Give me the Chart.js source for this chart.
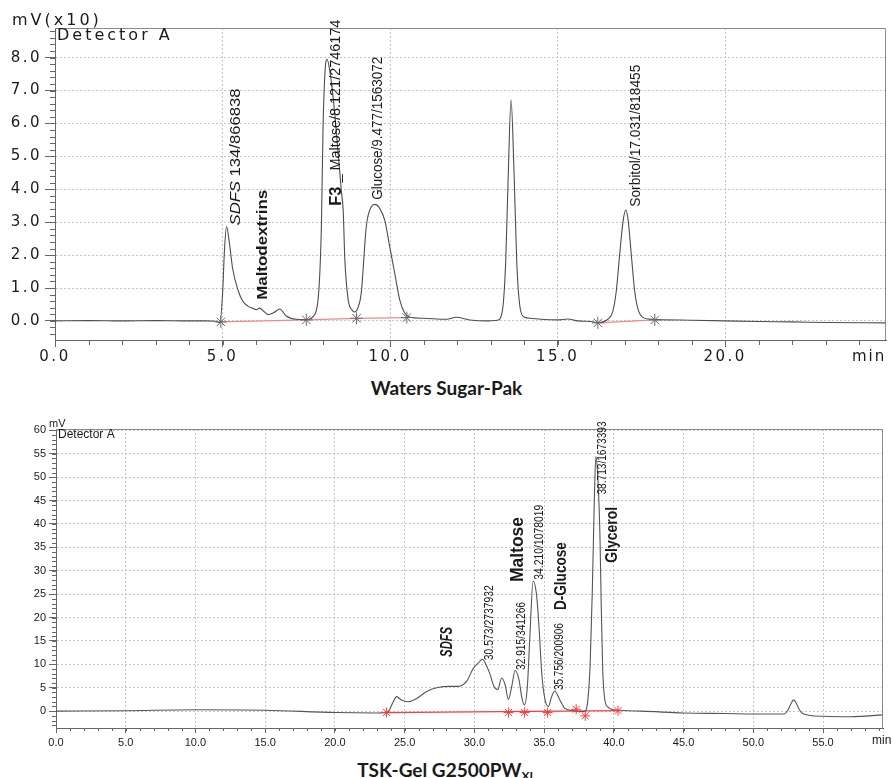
<!DOCTYPE html>
<html>
<head>
<meta charset="utf-8">
<title>Chromatograms</title>
<script src="https://cdn.jsdelivr.net/npm/chart.js@4.4.1/dist/chart.umd.min.js"></script>
<style>
  body { margin: 0; background: #fff; }
  #page { position: relative; width: 893px; height: 778px; overflow: hidden; }
  canvas { position: absolute; left: 0; }
  #sugarPak { top: 0; }
  #tskGel { top: 400px; }
  .caption { position: absolute; left: 0; width: 893px; text-align: center; line-height: 26px;
             font-family: Lato, sans-serif; font-weight: 700; font-size: 19px; color: #1a1a1a; }
  .caption span { font-size: 12px; vertical-align: -3px; }
</style>
</head>
<body>
<div id="page">
  <canvas id="sugarPak" width="893" height="372"></canvas>
  <div class="caption" style="top:375px">Waters Sugar-Pak</div>
  <canvas id="tskGel" width="893" height="355"></canvas>
  <div class="caption" style="top:757px">TSK-Gel G2500PW<span>XL</span></div>
</div>
<script>
// Waters Sugar-Pak trace (min, mV x10)
const sugarTime = [0, 1, 2, 3, 4, 4.5, 4.8, 4.92, 5.0, 5.06,
  5.12, 5.2, 5.3, 5.46, 5.61, 5.76, 5.9, 6.01, 6.11, 6.22,
  6.36, 6.51, 6.71, 6.9, 7.2, 7.45, 7.6, 7.7, 7.85, 7.95,
  8.0, 8.06, 8.12, 8.2, 8.32, 8.45, 8.55, 8.6, 8.65, 8.75,
  8.86, 8.94, 9.04, 9.14, 9.29, 9.44, 9.54, 9.69, 9.84, 9.99,
  10.14, 10.29, 10.44, 10.59, 10.99, 11.69, 11.98, 12.38, 12.9, 13.2,
  13.35, 13.45, 13.52, 13.61, 13.7, 13.78, 13.88, 14.0, 14.2, 14.5,
  15.0, 15.3, 15.6, 16.0, 16.2, 16.5, 16.65, 16.75, 16.85, 16.95,
  17.03, 17.1, 17.2, 17.3, 17.4, 17.55, 17.8, 18.0, 19.0, 20.0,
  21.0, 22.0, 23.0, 24.8];
const sugarSignal = [0, 0.01, 0, 0.01, 0, 0, -0.01, -0.05, 0.8, 2.2,
  2.87, 2.4, 1.6, 0.94, 0.59, 0.45, 0.38, 0.34, 0.39, 0.3,
  0.19, 0.24, 0.36, 0.15, 0.05, 0.04, 0.06, 0.13, 0.64, 2.87,
  5.9, 7.6, 7.95, 7.6, 6.6, 5.1, 3.9, 3.37, 1.86, 0.64,
  0.34, 0.27, 0.4, 0.85, 2.87, 3.47, 3.54, 3.42, 3.06, 2.25,
  1.44, 0.63, 0.23, 0.11, 0.08, 0.05, 0.11, 0.03, 0, 0.02,
  0.3, 1.8, 4.2, 6.72, 4.5, 1.8, 0.4, 0.12, 0.08, 0.05,
  0.03, 0.06, 0, -0.02, -0.05, 0.05, 0.3, 0.9, 2.0, 3.0,
  3.37, 3.1, 2.0, 0.9, 0.35, 0.1, 0.05, 0.04, 0.02, 0,
  -0.02, -0.03, -0.05, -0.06];
const sugarCutTime = [4.95, 7.5, 9.0, 10.5, 16.2, 17.9];
const sugarCutLevel = [-0.03, 0.03, 0.08, 0.1, -0.06, 0.03];
const sugarBaselines = [[0, 1], [1, 2], [2, 3], [4, 5]];
const sugarXTicks = [0, 5, 10, 15, 20];
const sugarYTicks = [0, 1, 2, 3, 4, 5, 6, 7, 8];

// TSK-Gel G2500PWXL trace (min, mV)
const tskTime = [0, 5, 10, 15, 20, 23, 23.8, 24.1, 24.42, 24.78,
  25.26, 25.86, 26.58, 27.3, 28.25, 28.85, 29.45, 29.93, 30.29, 30.57,
  30.89, 31.13, 31.4, 31.67, 31.96, 32.2, 32.44, 32.68, 32.92, 33.2,
  33.39, 33.58, 33.8, 33.99, 34.21, 34.47, 34.66, 34.83, 35.06, 35.3,
  35.54, 35.76, 36.13, 36.49, 37.1, 37.8, 38.0, 38.16, 38.3, 38.45,
  38.6, 38.71, 38.85, 39.0, 39.1, 39.2, 39.35, 39.6, 40.0, 42,
  45, 48, 50, 52.2, 52.5, 52.7, 52.9, 53.1, 53.3, 53.6,
  55, 57, 59.3];
const tskSignal = [0, 0.1, 0.3, 0.2, -0.3, -0.4, -0.2, 1.5, 3.1, 2.36,
  2.0, 2.7, 4.2, 5.0, 5.3, 5.3, 6.4, 9.2, 10.3, 11.1,
  9.6, 7.8, 5.3, 4.6, 7.1, 5.7, 2.5, 5.3, 8.7, 6.7,
  3.1, 1.3, 5.3, 16.7, 27.8, 24.5, 16.7, 8.1, 2.5, 1.0,
  3.1, 4.3, 2.4, 0.6, 0.1, -0.1, 0.2, 3.1, 10, 25,
  45, 54.4, 50, 38, 22, 9, 2.5, 0.8, 0.3, 0,
  -0.4, -0.5, -0.6, -0.6, 0.3, 1.6, 2.4, 1.6, 0.3, -0.6,
  -1.1, -1.2, -0.8];
const tskCutTime = [23.7, 32.45, 33.6, 35.25, 37.3, 37.95, 40.3];
const tskCutLevel = [-0.3, -0.3, -0.3, -0.3, 0.4, -1.0, 0.1];
const tskBaselines = [[0, 6]];
const tskXTicks = [0, 5, 10, 15, 20, 25, 30, 35, 40, 45, 50, 55];
const tskYTicks = [0, 5, 10, 15, 20, 25, 30, 35, 40, 45, 50, 55, 60];

const LS = '"Liberation Sans"';

// peak labels, anchored at the start of the (rotated) text, in data units
const sugarNotes = [
  { parts: [['italic 15px ' + LS, 'SDFS'], ['15px ' + LS, ' 134/866838']], x: 5.4, y: 2.9, len: 137 },
  { parts: [['bold 15px ' + LS, 'Maltodextrins']], x: 6.2, y: 0.64, len: 110 },
  { parts: [['bold 16px ' + LS, 'F3'], ['14px ' + LS, ' _ Maltose/8.121/2746174']], x: 8.4, y: 3.5, len: 186 },
  { parts: [['14px ' + LS, 'Glucose/9.477/1563072']], x: 9.63, y: 3.68, len: 143 },
  { parts: [['14px ' + LS, 'Sorbitol/17.031/818455']], x: 17.35, y: 3.47, len: 142 }
];
const tskNotes = [
  { parts: [['bold italic 16px ' + LS, 'SDFS']], x: 28.1, y: 11.6, len: 30 },
  { parts: [['12px ' + LS, '30.573/2737932']], x: 31.1, y: 10.9, len: 75 },
  { parts: [['12px ' + LS, '32.915/341266']], x: 33.4, y: 8.8, len: 68 },
  { parts: [['bold 18px ' + LS, 'Maltose']], x: 33.1, y: 27.6, len: 65 },
  { parts: [['12px ' + LS, '34.210/1078019']], x: 34.7, y: 28.1, len: 75 },
  { parts: [['bold 16px ' + LS, 'D-Glucose']], x: 36.27, y: 21.6, len: 68 },
  { parts: [['12px ' + LS, '35.756/200906']], x: 36.13, y: 4.5, len: 67 },
  { parts: [['bold 16px ' + LS, 'Glycerol']], x: 39.93, y: 31.7, len: 56 },
  { parts: [['12px ' + LS, '38.713/1673393']], x: 39.2, y: 46.3, len: 73 }
];

const pts = (xs, ys) => xs.map((x, i) => ({ x: x, y: ys[i] }));

function baselinePts(times, levels, segs) {
  const out = [];
  segs.forEach(([a, b]) => {
    out.push({ x: times[a], y: levels[a] }, { x: times[b], y: levels[b] }, { x: times[b], y: null });
  });
  return out;
}

// frame, minor ticks, axis captions and peak labels
const decor = {
  id: 'decor',
  beforeDraw(chart, args, o) {
    chart.ctx.letterSpacing = o.spacing || '0px';
  },
  afterDraw(chart, args, o) {
    const { ctx, chartArea: a, scales: { x, y } } = chart;
    ctx.save();
    ctx.letterSpacing = '0px';
    ctx.lineWidth = 1;
    ctx.strokeStyle = o.frameColor;
    ctx.beginPath();
    ctx.moveTo(a.left, a.top + 0.5);
    ctx.lineTo(a.right - 0.5, a.top + 0.5);
    ctx.lineTo(a.right - 0.5, a.bottom);
    ctx.stroke();

    ctx.strokeStyle = o.tickColor;
    ctx.beginPath();
    for (let i = 0; i * o.xMinorStep <= x.max; i++) {
      const p = Math.round(x.getPixelForValue(i * o.xMinorStep)) + 0.5;
      ctx.moveTo(p, a.bottom);
      ctx.lineTo(p, a.bottom + o.xMinorLen);
    }
    for (let i = Math.ceil(y.min / o.yMinorStep); i * o.yMinorStep <= y.max; i++) {
      const p = Math.round(y.getPixelForValue(i * o.yMinorStep)) + 0.5;
      ctx.moveTo(a.left - o.yMinorLen, p);
      ctx.lineTo(a.left, p);
    }
    ctx.stroke();

    ctx.fillStyle = '#1a1a1a';
    ctx.textBaseline = 'alphabetic';
    o.texts.forEach(t => {
      ctx.letterSpacing = t.spacing || '0px';
      ctx.font = t.font;
      ctx.fillText(t.text, t.px, t.py);
    });
    ctx.letterSpacing = '0px';

    o.notes.forEach(n => {
      ctx.save();
      ctx.translate(x.getPixelForValue(n.x), y.getPixelForValue(n.y));
      ctx.rotate(-Math.PI / 2);
      let total = 0;
      n.parts.forEach(([f, t]) => { ctx.font = f; total += ctx.measureText(t).width; });
      ctx.scale(n.len / total, 1);
      ctx.textBaseline = 'middle';
      let cx = 0;
      n.parts.forEach(([f, t]) => {
        ctx.font = f;
        ctx.fillText(t, cx, 0);
        cx += ctx.measureText(t).width;
      });
      ctx.restore();
    });
    ctx.restore();
  }
};

function chromatogram(id, c) {
  return new Chart(document.getElementById(id), {
    type: 'line',
    data: {
      datasets: [
        { data: pts(c.time, c.signal), borderColor: c.traceColor, borderWidth: 1.1,
          pointRadius: 0, cubicInterpolationMode: 'monotone', order: 1 },
        { data: baselinePts(c.cutTime, c.cutLevel, c.baselines), borderColor: c.baseColor,
          borderWidth: 1.3, pointRadius: 0, spanGaps: false, order: 2 },
        { data: pts(c.cutTime, c.cutLevel), showLine: false, pointStyle: 'star',
          pointRadius: c.markSize, borderColor: c.markColor, pointBorderColor: c.markColor,
          pointBorderWidth: 1, order: 0 }
      ]
    },
    options: {
      responsive: false,
      animation: false,
      events: [],
      layout: { padding: c.padding },
      plugins: { legend: { display: false }, tooltip: { enabled: false }, decor: c.decor },
      scales: {
        x: {
          type: 'linear', min: c.xMin, max: c.xMax,
          afterBuildTicks: s => { s.ticks = c.xTicks.map(v => ({ value: v })); },
          afterFit: s => { s.height = c.xHeight; },
          ticks: { callback: v => v.toFixed(1), font: c.tickFont, color: '#1a1a1a',
                   padding: c.xPad, maxRotation: 0, autoSkip: false },
          grid: { color: '#c6c6c6', tickLength: c.xTickLen, tickColor: '#666', borderDash: [2, 2] },
          border: { color: '#666', dash: [2, 2] }
        },
        y: {
          min: c.yMin, max: c.yMax,
          afterBuildTicks: s => { s.ticks = c.yTicks.map(v => ({ value: v })); },
          afterFit: s => { s.width = c.yWidth; },
          ticks: { callback: c.yFormat, font: c.tickFont, color: '#1a1a1a',
                   padding: c.yPad, autoSkip: false },
          grid: { color: '#c6c6c6', tickLength: c.yTickLen, tickColor: '#666', borderDash: [2, 2] },
          border: { color: '#666', dash: [2, 2] }
        }
      }
    },
    plugins: [decor]
  });
}

chromatogram('sugarPak', {
  time: sugarTime, signal: sugarSignal,
  cutTime: sugarCutTime, cutLevel: sugarCutLevel, baselines: sugarBaselines,
  traceColor: '#4d4d4d', baseColor: '#f08a8a', markColor: '#6a6a6a', markSize: 6,
  xMin: 0, xMax: 24.8, yMin: -0.58, yMax: 8.9,
  xTicks: sugarXTicks, yTicks: sugarYTicks, yFormat: v => v.toFixed(1),
  tickFont: { family: 'DejaVu Sans', size: 15 },
  padding: { top: 28, right: 6, left: 0, bottom: 0 },
  xHeight: 32, yWidth: 55, xPad: 1, yPad: 3, xTickLen: 7, yTickLen: 10,
  decor: {
    spacing: '2.5px', frameColor: '#8a8a8a', tickColor: '#666',
    xMinorStep: 1, xMinorLen: 5, yMinorStep: 0.2, yMinorLen: 5,
    texts: [
      { text: 'mV(x10)', px: 12, py: 25, font: '16px "DejaVu Sans"', spacing: '3px' },
      { text: 'Detector A', px: 57, py: 40, font: '16px "DejaVu Sans"', spacing: '3px' },
      { text: 'min', px: 852, py: 361, font: '15px "DejaVu Sans"', spacing: '2px' }
    ],
    notes: sugarNotes
  }
});

chromatogram('tskGel', {
  time: tskTime, signal: tskSignal,
  cutTime: tskCutTime, cutLevel: tskCutLevel, baselines: tskBaselines,
  traceColor: '#555555', baseColor: '#ff3b3b', markColor: '#ff3b3b', markSize: 5,
  xMin: 0, xMax: 59.3, yMin: -3.6, yMax: 60.3,
  xTicks: tskXTicks, yTicks: tskYTicks, yFormat: v => String(v),
  tickFont: { family: 'Liberation Sans', size: 11 },
  padding: { top: 29, right: 10, left: 0, bottom: 0 },
  xHeight: 27, yWidth: 56, xPad: 3, yPad: 3, xTickLen: 5, yTickLen: 7,
  decor: {
    spacing: '0px', frameColor: '#8a8a8a', tickColor: '#666',
    xMinorStep: 1, xMinorLen: 3, yMinorStep: 1, yMinorLen: 4,
    texts: [
      { text: 'mV', px: 49, py: 27, font: '11px ' + LS },
      { text: 'Detector A', px: 58, py: 38, font: '12px ' + LS },
      { text: 'min', px: 872, py: 344, font: '12px ' + LS }
    ],
    notes: tskNotes
  }
});
</script>
</body>
</html>
